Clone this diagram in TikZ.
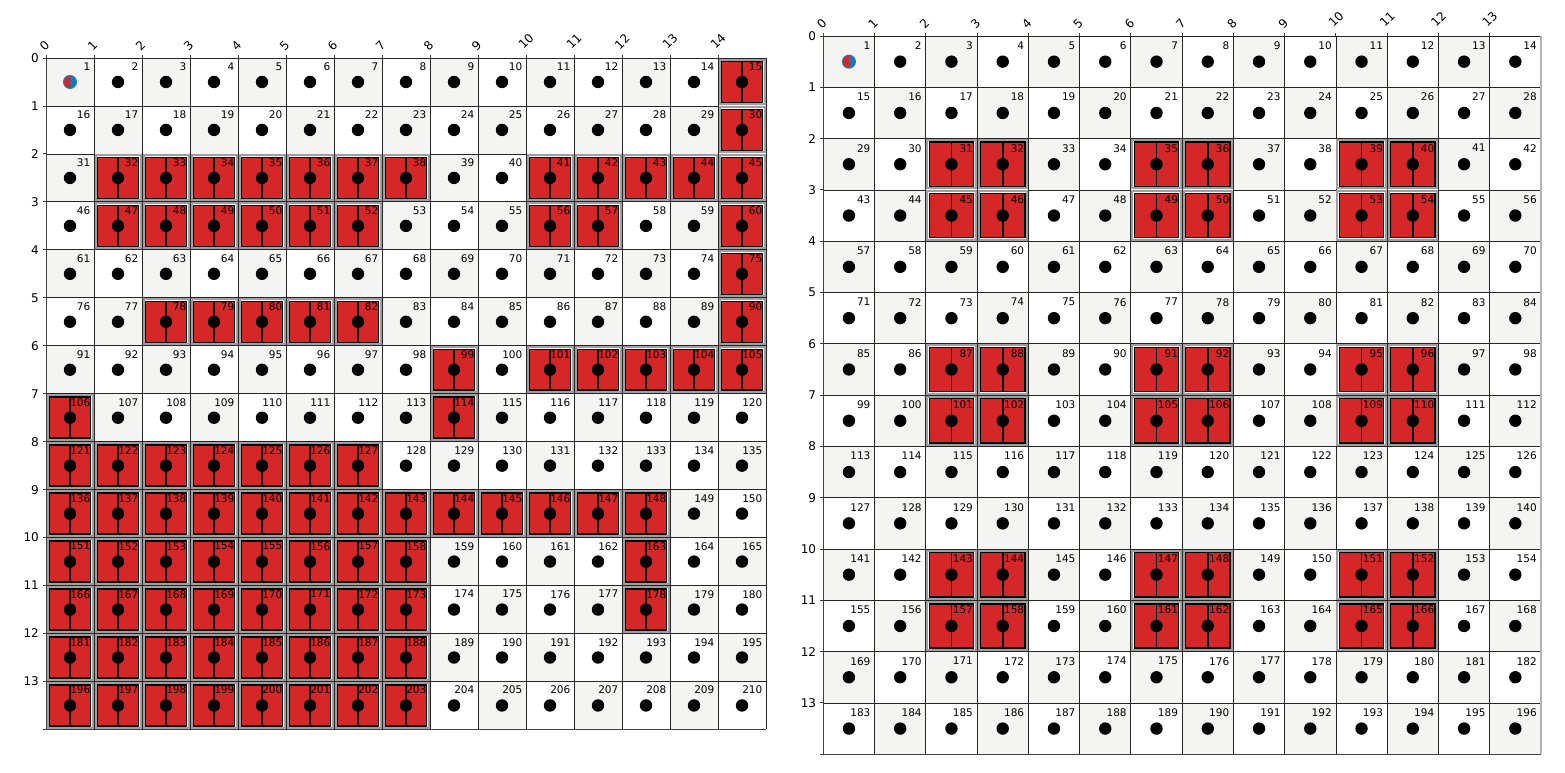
\documentclass[tikz,border=0pt]{standalone}
\usepackage{fontspec}
\setmainfont{DejaVu Sans}
\definecolor{cellred}{HTML}{D62728}
\definecolor{cellblue}{HTML}{1F77B4}
\definecolor{checker}{RGB}{244,244,242}
\begin{document}
\begin{tikzpicture}[x=1pt,y=-1pt,
  cellno/.style={anchor=north east,inner sep=0,font=\fontsize{10.5}{12}\selectfont},
  ticklbl/.style={anchor=east,inner sep=0,font=\fontsize{12}{14}\selectfont},
  toplbl/.style={rotate=45,inner sep=0,font=\fontsize{12}{14}\selectfont},
  gridline/.style={black!85,line width=0.8pt},spine/.style={black!75,line width=0.9pt},
  ring/.style={gray!75,line width=2pt},redbox/.style={draw=black,fill=cellred,line width=1.5pt}]
\useasboundingbox (0,0) rectangle (1565,772);
\begin{scope}[xshift=46pt,yshift=-58pt,x=48pt,y=-47.96pt]
\foreach \row in {0,...,13}\foreach \col in {0,...,14}{\pgfmathtruncatemacro\odd{mod(\row+\col,2)}\ifnum\odd=0 \fill[checker] (\col,\row) rectangle ++(1,1);\fi}
\foreach \col in {0,...,15}\draw[gridline] (\col,0)--(\col,14);\foreach \row in {0,...,14}\draw[gridline] (0,\row)--(15,\row);
\foreach \n in {15,30,32,33,34,35,36,37,38,41,42,43,44,45,47,48,49,50,51,52,56,57,60,75,78,79,80,81,82,90,99,101,102,103,104,105,106,114,121,122,123,124,125,126,127,136,137,138,139,140,141,142,143,144,145,146,147,148,151,152,153,154,155,156,157,158,163,166,167,168,169,170,171,172,173,178,181,182,183,184,185,186,187,188,196,197,198,199,200,201,202,203}{
  \pgfmathtruncatemacro\row{(\n-1)/15}\pgfmathtruncatemacro\col{\n-1-15*\row}
  \draw[ring] ([xshift=1.5pt,yshift=-1.5pt]\col,\row) rectangle ([xshift=-1.5pt,yshift=1.5pt]\col+1,\row+1);
  \draw[redbox] ([xshift=3.5pt,yshift=-3.5pt]\col,\row) rectangle ([xshift=-3.5pt,yshift=3.5pt]\col+1,\row+1);
  \draw[line width=1.7pt] ([yshift=-3.5pt]\col+0.5,\row)--([yshift=3.5pt]\col+0.5,\row+1);}
\foreach \row in {0,...,13}\foreach \col in {0,...,14}{\pgfmathtruncatemacro\n{\row*15+\col+1}
  \ifnum\n>1 \fill (\col+0.5,\row+0.5) circle[radius=6.2pt];\fi
  \node[cellno] (a\n) at ([xshift=-3.5pt,yshift=-4.5pt]\col+1,\row) {\n};}
\fill[cellblue] (0.5,0.5) circle[radius=7pt];\fill[cellred] ([yshift=6pt]0.5,0.5) arc[start angle=90,end angle=270,radius=6pt]--cycle;
\draw[spine] (0,0)--(0,14);\draw[spine] ([xshift=-3.5pt]0,14)--(15,14);
\foreach \row in {0,...,13}{\draw[spine] (0,\row)--++(-3.5pt,0);\node[ticklbl] (ay\row) at ([xshift=-7pt]0,\row) {\row};}
\foreach \col in {0,...,14}{\draw[spine] (\col,0)--++(0,3.5pt);
  \ifnum\col<10 \node[toplbl] (ax\col) at ([xshift=-1.5pt,yshift=12pt]\col,0) {\col};\else \node[toplbl] (ax\col) at ([yshift=16.5pt]\col,0) {\col};\fi}
\end{scope}
\begin{scope}[xshift=823.3pt,yshift=-36pt,x=51.26pt,y=-51.3pt]
\foreach \row in {0,...,13}\foreach \col in {0,...,13}{\pgfmathtruncatemacro\odd{mod(\row+\col,2)}\ifnum\odd=0 \fill[checker] (\col,\row) rectangle ++(1,1);\fi}
\foreach \col in {0,...,13}\draw[gridline] (\col,0)--(\col,14);\foreach \row in {0,...,14}\draw[gridline] (0,\row)--(14,\row);
\draw[gray!60,line width=1.8pt] (14,0)--(14,14);
\foreach \n in {31,32,35,36,39,40,45,46,49,50,53,54,87,88,91,92,95,96,101,102,105,106,109,110,143,144,147,148,151,152,157,158,161,162,165,166}{
  \pgfmathtruncatemacro\row{(\n-1)/14}\pgfmathtruncatemacro\col{\n-1-14*\row}
  \draw[ring] ([xshift=1.5pt,yshift=-1.5pt]\col,\row) rectangle ([xshift=-1.5pt,yshift=1.5pt]\col+1,\row+1);
  \draw[redbox] ([xshift=3.5pt,yshift=-3.5pt]\col,\row) rectangle ([xshift=-3.5pt,yshift=3.5pt]\col+1,\row+1);
  \draw[line width=1.7pt] ([yshift=-3.5pt]\col+0.5,\row)--([yshift=3.5pt]\col+0.5,\row+1);}
\foreach \row in {0,...,13}\foreach \col in {0,...,13}{\pgfmathtruncatemacro\n{\row*14+\col+1}
  \ifnum\n>1 \fill (\col+0.5,\row+0.5) circle[radius=6.2pt];\fi
  \node[cellno] (b\n) at ([xshift=-4pt,yshift=-5.5pt]\col+1,\row) {\n};}
\fill[cellblue] (0.5,0.5) circle[radius=7pt];\fill[cellred] ([yshift=6pt]0.5,0.5) arc[start angle=90,end angle=270,radius=6pt]--cycle;
\draw[spine] (0,0)--(0,14);\draw[spine] ([xshift=-3.5pt]0,14)--(14,14);
\foreach \row in {0,...,13}{\draw[spine] (0,\row)--++(-3.5pt,0);\node[ticklbl] (by\row) at ([xshift=-7pt]0,\row) {\row};}
\foreach \col in {0,...,13}{\draw[spine] (\col,0)--++(0,3.5pt);
  \ifnum\col<10 \node[toplbl] (bx\col) at ([xshift=-1.5pt,yshift=12.5pt]\col,0) {\col};\else \node[toplbl] (bx\col) at ([yshift=17pt]\col,0) {\col};\fi}
\end{scope}
\end{tikzpicture}
\end{document}
